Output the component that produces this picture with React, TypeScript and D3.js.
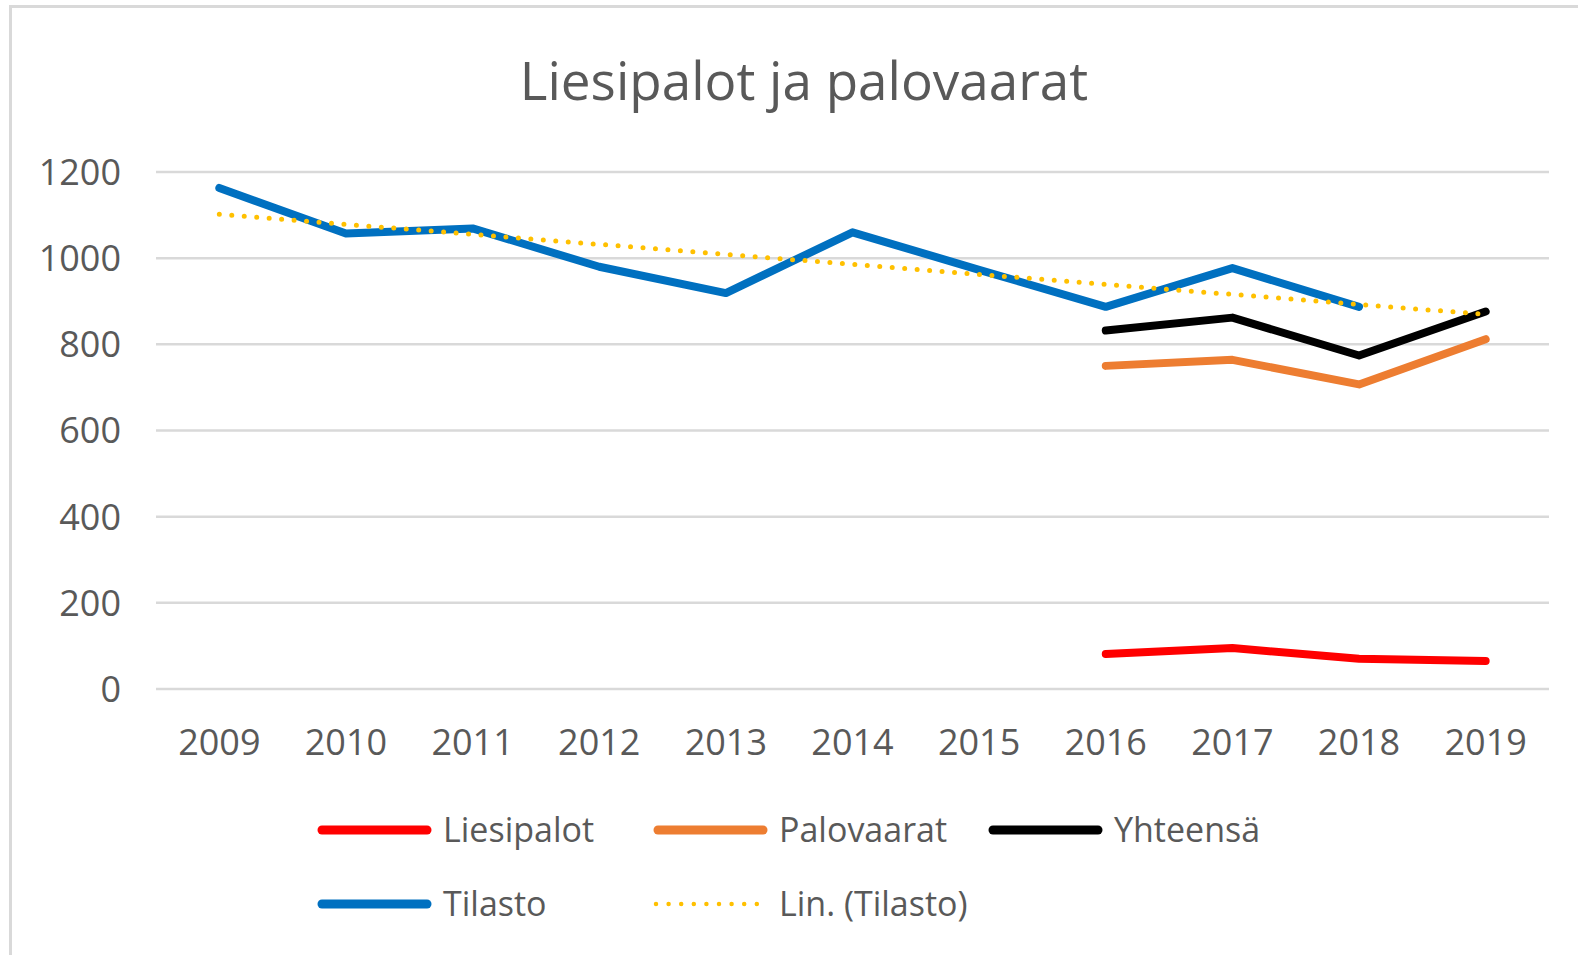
import React from "react";
import * as d3 from "d3";

const years = ["2009", "2010", "2011", "2012", "2013", "2014", "2015", "2016", "2017", "2018", "2019"];
const tilasto: (number | null)[] = [1163, 1057, 1069, 980, 919, 1060, 973, 887, 977, 887, null];
const liesipalot: (number | null)[] = [null, null, null, null, null, null, null, 81, 95, 70, 65];
const palovaarat: (number | null)[] = [null, null, null, null, null, null, null, 750, 764, 707, 812];
const yhteensa: (number | null)[] = [null, null, null, null, null, null, null, 832, 862, 774, 876];
const yTicks = [0, 200, 400, 600, 800, 1000, 1200];

const legendRow1 = [
  { name: "Liesipalot", color: "#FF0000", dotted: false },
  { name: "Palovaarat", color: "#ED7D31", dotted: false },
  { name: "Yhteensä", color: "#000000", dotted: false },
];
const legendRow2 = [
  { name: "Tilasto", color: "#0070C0", dotted: false },
  { name: "Lin. (Tilasto)", color: "#FFC000", dotted: true },
];

const W = 1578;
const H = 955;
const FONT = "'Open Sans', sans-serif";
const GRAY = "#595959";

export default function App() {
  const x = d3.scalePoint<string>().domain(years).range([156, 1549]).padding(0.5);
  const y = d3.scaleLinear().domain([0, 1200]).range([689, 172]);

  const line = d3
    .line<number | null>()
    .defined((d) => d !== null)
    .x((_, i) => x(years[i]) as number)
    .y((d) => y(d as number));

  // linear trend of Tilasto (least squares), drawn over all categories
  const pts = tilasto.map((v, i) => [i, v] as [number, number | null]).filter((p) => p[1] !== null) as [number, number][];
  const mx = d3.mean(pts, (p) => p[0]) as number;
  const my = d3.mean(pts, (p) => p[1]) as number;
  const sxy = d3.sum(pts, (p) => (p[0] - mx) * (p[1] - my));
  const sxx = d3.sum(pts, (p) => (p[0] - mx) ** 2);
  const slope = sxy / sxx;
  const icpt = my - slope * mx;
  const trend = years.map((_, i) => icpt + slope * i);

  const series = [
    { data: tilasto, color: "#0070C0" },
    { data: yhteensa, color: "#000000" },
    { data: palovaarat, color: "#ED7D31" },
    { data: liesipalot, color: "#FF0000" },
  ];

  const legendCols = [318, 654, 989];
  const legendRows = [830, 904];

  const renderLegend = (items: typeof legendRow1, row: number) =>
    items.map((it, i) => {
      const lx = legendCols[i];
      const ly = legendRows[row];
      return (
        <g key={it.name}>
          {it.dotted ? (
            <line x1={lx + 2} x2={lx + 111} y1={ly} y2={ly} stroke={it.color} strokeWidth={4.5} strokeLinecap="round" strokeDasharray="0 12.6" />
          ) : (
            <line x1={lx + 4} x2={lx + 109} y1={ly} y2={ly} stroke={it.color} strokeWidth={9} strokeLinecap="round" />
          )}
          <text x={lx + 125} y={ly} dy="0.36em" fontSize={34} fill={GRAY} fontFamily={FONT}>
            {it.name}
          </text>
        </g>
      );
    });

  return (
    <svg width={W} height={H} style={{ position: "absolute", left: 0, top: 0, background: "#fff" }}>
      <rect x={0} y={0} width={W} height={H} fill="#fff" />
      <rect x={10.5} y={6.5} width={W + 20} height={H + 20} fill="none" stroke="#D9D9D9" strokeWidth={3} />
      <text x={804} y={100} textAnchor="middle" fontSize={53} fill={GRAY} fontFamily={FONT}>
        Liesipalot ja palovaarat
      </text>
      {yTicks.map((t) => (
        <g key={t}>
          <line x1={156} x2={1549} y1={y(t)} y2={y(t)} stroke="#D9D9D9" strokeWidth={2.5} />
          <text x={121} y={y(t)} dy="0.36em" textAnchor="end" fontSize={36} fill={GRAY} fontFamily={FONT}>
            {t}
          </text>
        </g>
      ))}
      {years.map((yr) => (
        <text key={yr} x={x(yr)} y={742} dy="0.36em" textAnchor="middle" fontSize={36} fill={GRAY} fontFamily={FONT}>
          {yr}
        </text>
      ))}
      {series.map((s, i) => (
        <path key={i} d={line(s.data) || ""} fill="none" stroke={s.color} strokeWidth={8} strokeLinecap="round" strokeLinejoin="round" />
      ))}
      <path d={line(trend) || ""} fill="none" stroke="#FFC000" strokeWidth={5} strokeLinecap="round" strokeDasharray="0 12.5" />
      {renderLegend(legendRow1, 0)}
      {renderLegend(legendRow2, 1)}
    </svg>
  );
}
